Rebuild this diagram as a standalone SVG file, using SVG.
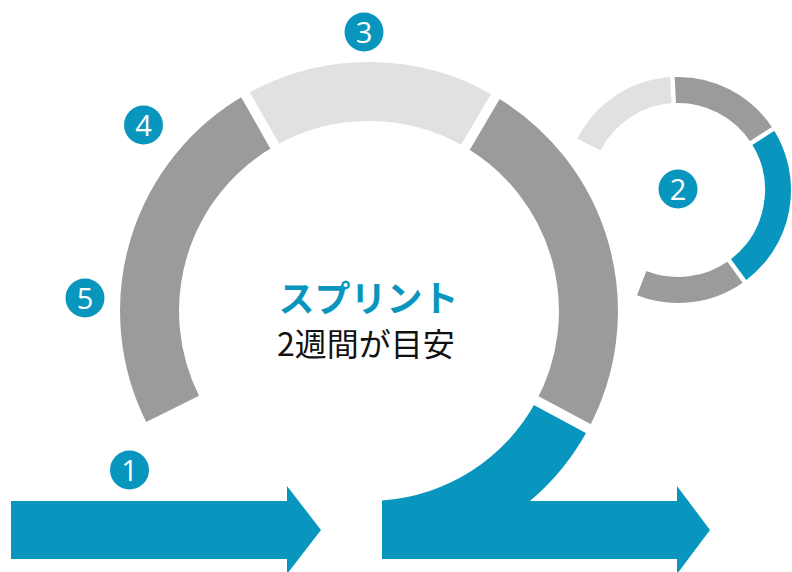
<svg xmlns="http://www.w3.org/2000/svg" width="792" height="572" viewBox="0 0 792 572">
<style>
.ring{fill:none;stroke-width:59;stroke-linecap:butt}
.sring{fill:none;stroke-width:26;stroke-linecap:butt}
.dark{stroke:#9b9b9b}
.light{stroke:#e1e1e1}
.blue{stroke:#0996be}
.sep{stroke:#ffffff;stroke-width:10;stroke-linecap:butt}
.ssep{stroke:#ffffff;stroke-width:4.5;stroke-linecap:butt}
.badge circle{fill:#0996be}
.badge text{fill:#ffffff;font-family:"Open Sans","Noto Sans",sans-serif;font-size:29px;text-anchor:middle}
.fillblue{fill:#0996be}
</style>
<rect width="792" height="572" fill="#ffffff"/>

<g id="big-ring">
  <path class="ring dark" d="M172.6,408.9 A219.5,219.5 0 0 1 260.1,120.4"/>
  <path class="ring light" d="M260.1,120.4 A219.5,219.5 0 0 1 480.4,121.9"/>
  <path class="ring dark" d="M480.4,121.9 A219.5,219.5 0 0 1 562.4,414.7"/>
</g>

<g id="connectors">
  <path id="arrow-in" class="fillblue" d="M11,501 L287,501 L287,486 L321,530 L287,574 L287,559 L11,559 Z"/>
  <path id="arrow-out" class="fillblue" d="M588.4,428.7 A249,249 0 0 1 530,501 L677,501 L677,486 L710,530 L677,574 L677,559 L382,559 L382,500.5 A190,190 0 0 0 536.4,400.8 Z"/>
</g>

<g id="big-ring-gaps">
  <line class="sep" x1="277.2" y1="150.4" x2="242.5" y2="89.6"/>
  <line class="sep" x1="462.9" y1="151.6" x2="498.4" y2="91.3"/>
  <line class="sep" x1="532.0" y1="398.4" x2="593.7" y2="431.5"/>
</g>

<g id="small-ring">
  <path class="sring light" d="M588.9,144.6 A100,100 0 0 1 673.1,90.1"/>
  <path class="sring dark" d="M673.1,90.1 A100,100 0 0 1 762.2,136.0"/>
  <path class="sring blue" d="M762.2,136.0 A100,100 0 0 1 736.8,270.9"/>
  <path class="sring dark" d="M736.8,270.9 A100,100 0 0 1 641.7,283.2"/>
  <line class="ssep" x1="673.9" y1="106.1" x2="672.3" y2="74.1"/>
  <line class="ssep" x1="748.7" y1="144.6" x2="775.6" y2="127.3"/>
  <line class="ssep" x1="727.4" y1="258.0" x2="746.2" y2="283.8"/>
</g>

<g id="center-label">
  <text x="368.5" y="312" font-family="'Noto Sans CJK JP',sans-serif" font-size="36" font-weight="bold" fill="#0996be" text-anchor="middle">スプリント</text>
  <text x="366" y="356" font-family="'Noto Sans CJK JP',sans-serif" font-size="32" fill="#111111" text-anchor="middle">2週間が目安</text>
</g>

<g id="badge-1" class="badge"><circle cx="129.5" cy="470" r="19.5"/><text x="129.5" y="480.5">1</text></g>
<g id="badge-2" class="badge"><circle cx="678" cy="189" r="19.5"/><text x="678" y="199.5">2</text></g>
<g id="badge-3" class="badge"><circle cx="364" cy="32" r="19.5"/><text x="364" y="42.5">3</text></g>
<g id="badge-4" class="badge"><circle cx="143.5" cy="125" r="19.5"/><text x="143.5" y="135.5">4</text></g>
<g id="badge-5" class="badge"><circle cx="85" cy="298" r="19.5"/><text x="85" y="308.5">5</text></g>
</svg>
